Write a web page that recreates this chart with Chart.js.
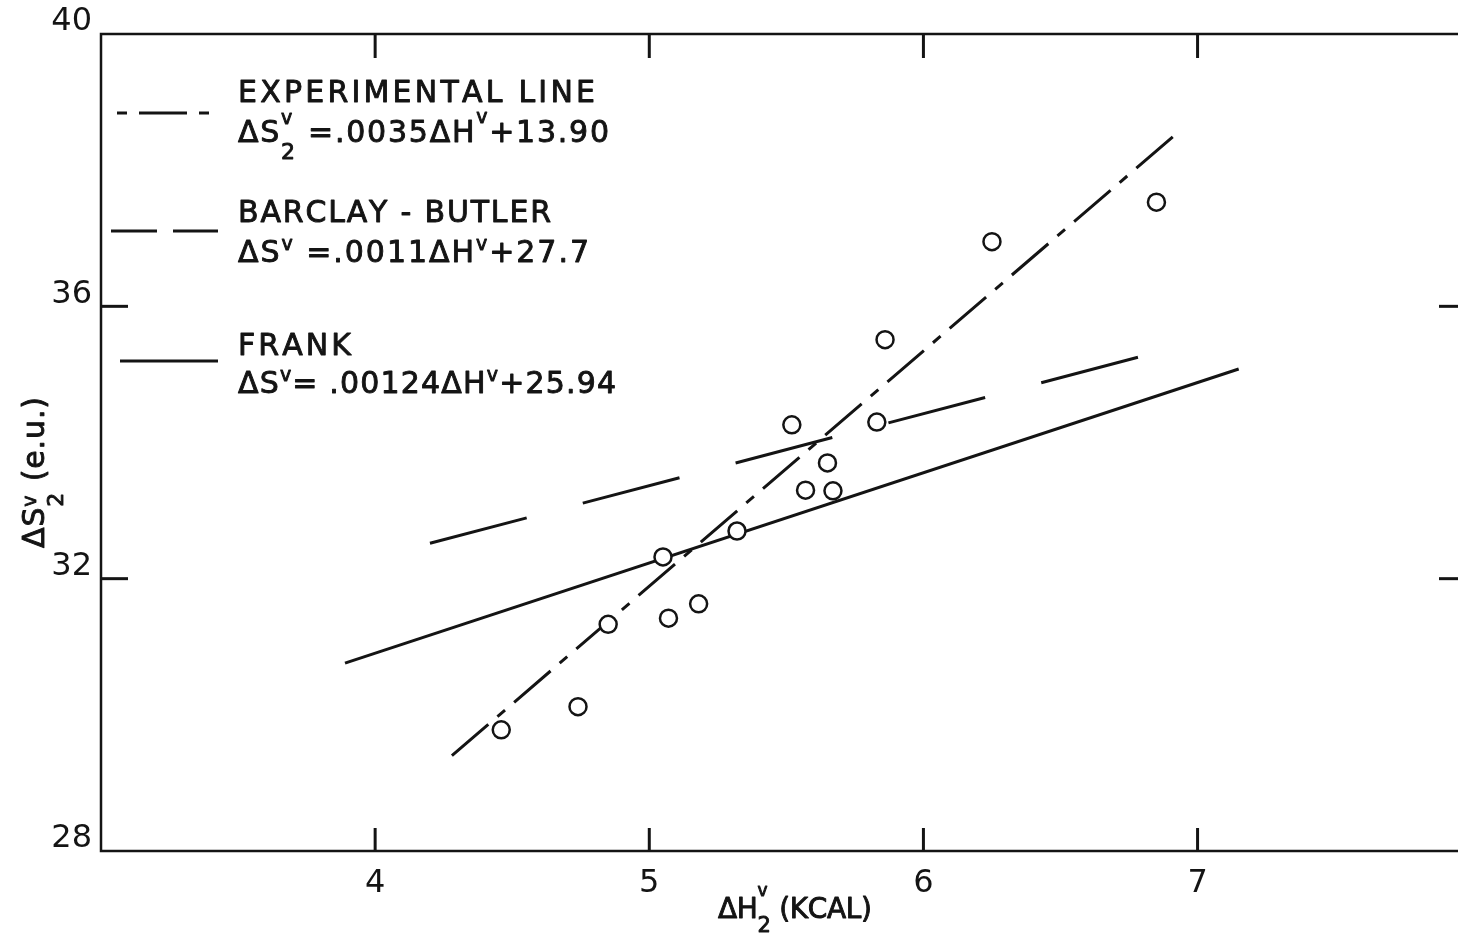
<!DOCTYPE html>
<html>
<head>
<meta charset="utf-8">
<script src="https://cdn.jsdelivr.net/npm/chart.js@4.4.1/dist/chart.umd.min.js"></script>
<style>
    html, body { margin: 0; padding: 0; background: #fff; }
    #grafico { display: block; }
</style>
</head>
<body>
<canvas id="grafico" width="1458" height="934"></canvas>
<script>
/* =========================================
   DATOS
   ========================================= */
// puntos medidos: ΔH2v (kcal) y ΔS2v (e.u.)
const puntosX = [4.46, 4.74, 4.85, 5.05, 5.07, 5.18, 5.32, 5.52, 5.57, 5.65, 5.67, 5.83, 5.86, 6.25, 6.85];
const puntosY = [29.78, 30.12, 31.33, 32.32, 31.42, 31.63, 32.70, 34.26, 33.30, 33.70, 33.29, 34.30, 35.51, 36.95, 37.53];

// extremos de las rectas tal como estan dibujadas
const experimentalX = [4.28, 6.91];
const experimentalY = [29.40, 38.49];
const barclayX = [4.20, 6.885];
const barclayY = [32.52, 35.36];
const frankX = [3.89, 7.15];
const frankY = [30.76, 35.08];

const ticksX = [4, 5, 6, 7];
const ticksY = [28, 32, 36, 40];

const leyendaTitulos = ['EXPERIMENTAL LINE', 'BARCLAY - BUTLER', 'FRANK'];
const leyendaEcuaciones = [
    ['ΔS', { sup: 'v', sub: '2', up: 0.6, down: 0.55 }, ' =.0035ΔH', { sup: 'v', up: 0.62 }, '+13.90'],
    ['ΔS', { sup: 'v', up: 0.4 }, ' =.0011ΔH', { sup: 'v', up: 0.4 }, '+27.7'],
    ['ΔS', { sup: 'v', up: 0.4 }, '= .00124ΔH', { sup: 'v', up: 0.4 }, '+25.94']
];
const tituloX = ['ΔH', { sup: 'v', sub: '2', up: 0.78, down: 0.5 }, ' (KCAL)'];
const tituloY = ['ΔS', { sup: 'v', sub: '2', up: 0.28, down: 0.62 }, ' (e.u.)'];

const TINTA = '#141414';
const FUENTE = '"DejaVu Sans", sans-serif';

const pares = (xs, ys) => xs.map((v, i) => ({ x: v, y: ys[i] }));

/* =========================================
   TEXTO CON SUBINDICES / SUPERINDICES
   ========================================= */
function dibujarTexto(ctx, partes, x, base, size, ancho) {
    const supSize = Math.round(size * 0.62);
    const subSize = Math.round(size * 0.74);
    const items = [];
    partes.forEach(p => {
        if (typeof p === 'string') {
            ctx.font = size + 'px ' + FUENTE;
            for (const ch of p) items.push({ w: ctx.measureText(ch).width, g: [{ ch, f: size, dy: 0 }] });
        } else {
            const g = [];
            let w = 0;
            if (p.sup) {
                ctx.font = supSize + 'px ' + FUENTE;
                g.push({ ch: p.sup, f: supSize, dy: -p.up * size });
                w = Math.max(w, ctx.measureText(p.sup).width);
            }
            if (p.sub) {
                ctx.font = subSize + 'px ' + FUENTE;
                g.push({ ch: p.sub, f: subSize, dy: p.down * size });
                w = Math.max(w, ctx.measureText(p.sub).width);
            }
            items.push({ w, g });
        }
    });
    const natural = items.reduce((s, it) => s + it.w, 0);
    const esp = items.length > 1 ? (ancho - natural) / (items.length - 1) : 0;
    let cx = x;
    ctx.textAlign = 'left';
    ctx.textBaseline = 'alphabetic';
    ctx.lineWidth = 0.9;
    ctx.lineJoin = 'round';
    items.forEach(it => {
        it.g.forEach(gl => {
            ctx.font = gl.f + 'px ' + FUENTE;
            ctx.fillText(gl.ch, cx, base + gl.dy);
            ctx.strokeText(gl.ch, cx, base + gl.dy);
        });
        cx += it.w + esp;
    });
}

/* =========================================
   PLUGIN: marco, marcas, leyenda y titulos
   ========================================= */
const pluginMarco = {
    id: 'marco',
    afterDraw(chart) {
        const { ctx, chartArea: a, scales: { x, y } } = chart;
        const linea = (x1, y1, x2, y2) => { ctx.beginPath(); ctx.moveTo(x1, y1); ctx.lineTo(x2, y2); ctx.stroke(); };
        ctx.save();
        ctx.strokeStyle = TINTA;
        ctx.fillStyle = TINTA;

        // ejes (sin borde derecho, como en el original recortado)
        ctx.lineWidth = 2.5;
        ctx.beginPath();
        ctx.moveTo(a.right, a.top);
        ctx.lineTo(a.left, a.top);
        ctx.lineTo(a.left, a.bottom);
        ctx.lineTo(a.right, a.bottom);
        ctx.stroke();

        // marcas hacia dentro
        ctx.lineWidth = 3;
        ticksX.forEach(v => {
            const px = x.getPixelForValue(v);
            linea(px, a.bottom, px, a.bottom - 23);
            linea(px, a.top, px, a.top + 24);
        });
        ticksY.filter(v => v > y.min && v < y.max).forEach(v => {
            const py = y.getPixelForValue(v);
            linea(a.left, py, a.left + 27, py);
            linea(a.right, py, a.right - 19, py);
        });

        // leyenda
        const ds = chart.data.datasets;
        const muestras = [
            { d: ds[1], y: 113, x1: 111, off: 54 },
            { d: ds[2], y: 231, x1: 111, off: 0, dash: [46, 16] },
            { d: ds[3], y: 361, x1: 120, off: 0 }
        ];
        muestras.forEach(m => {
            ctx.lineWidth = m.d.borderWidth;
            ctx.setLineDash(m.dash || m.d.borderDash || []);
            ctx.lineDashOffset = m.off;
            linea(m.x1, m.y, 218, m.y);
        });
        ctx.setLineDash([]);

        const bases = [[102, 142], [222, 262], [355, 393]];
        const anchos = [[357, 371], [313, 351], [113, 378]];
        leyendaTitulos.forEach((t, i) => {
            dibujarTexto(ctx, [t], 238, bases[i][0], 30, anchos[i][0]);
            dibujarTexto(ctx, leyendaEcuaciones[i], 238, bases[i][1], 30, anchos[i][1]);
        });

        // titulo eje X
        dibujarTexto(ctx, tituloX, 718, 918, 28, 154);

        // titulo eje Y (girado)
        ctx.save();
        ctx.translate(44, 548);
        ctx.rotate(-Math.PI / 2);
        dibujarTexto(ctx, tituloY, 0, 0, 30, 151);
        ctx.restore();

        ctx.restore();
    }
};

/* =========================================
   GRAFICO
   ========================================= */
const ctx = document.getElementById('grafico').getContext('2d');
new Chart(ctx, {
    type: 'scatter',
    data: {
        datasets: [
            {
                label: 'Datos',
                data: pares(puntosX, puntosY),
                showLine: false,
                pointStyle: 'circle',
                pointRadius: 8.5,
                pointBorderWidth: 2.5,
                pointBackgroundColor: '#fff',
                pointBorderColor: TINTA
            },
            {
                label: 'Experimental line',
                data: pares(experimentalX, experimentalY),
                showLine: true,
                borderColor: TINTA,
                borderWidth: 3,
                borderDash: [48, 12, 10, 12],
                pointRadius: 0
            },
            {
                label: 'Barclay-Butler',
                data: pares(barclayX, barclayY),
                showLine: true,
                borderColor: TINTA,
                borderWidth: 3,
                borderDash: [100, 58],
                pointRadius: 0
            },
            {
                label: 'Frank',
                data: pares(frankX, frankY),
                showLine: true,
                borderColor: TINTA,
                borderWidth: 3,
                pointRadius: 0
            }
        ]
    },
    options: {
        responsive: false,
        animation: false,
        devicePixelRatio: 1,
        layout: { autoPadding: false, padding: { top: 34, right: 0, bottom: 0, left: 0 } },
        plugins: { legend: { display: false }, tooltip: { enabled: false } },
        scales: {
            x: {
                type: 'linear',
                min: 3,
                max: 7.95,
                grid: { display: false, drawTicks: false },
                border: { display: false },
                ticks: { color: TINTA, font: { family: FUENTE, size: 32 }, padding: 13 },
                afterBuildTicks: s => { s.ticks = ticksX.map(v => ({ value: v })); },
                afterFit: s => { s.height = 83; }
            },
            y: {
                type: 'linear',
                min: 28,
                max: 40,
                grid: { display: false, drawTicks: false },
                border: { display: false },
                ticks: { color: TINTA, font: { family: FUENTE, size: 32 }, padding: 9, labelOffset: -12 },
                afterBuildTicks: s => { s.ticks = ticksY.map(v => ({ value: v })); },
                afterFit: s => { s.width = 101; }
            }
        }
    },
    plugins: [pluginMarco]
});
</script>
</body>
</html>
